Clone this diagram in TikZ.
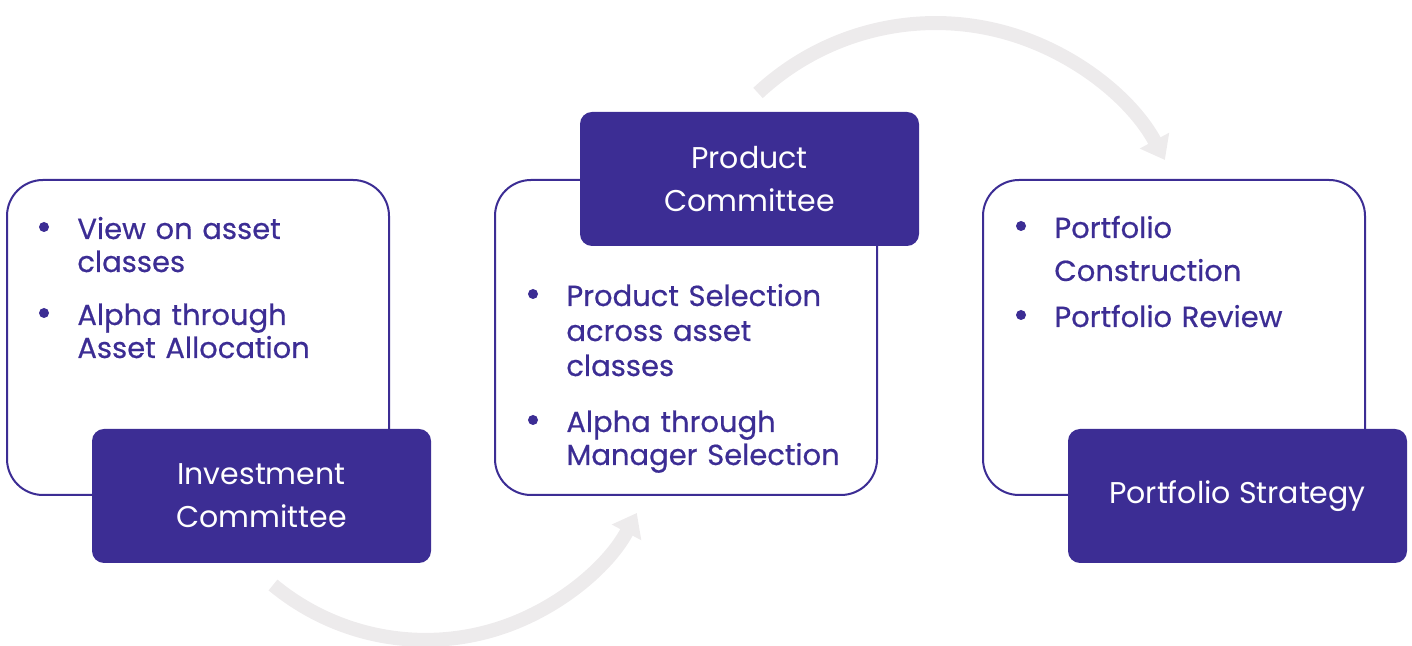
\documentclass[tikz,border=0pt]{standalone}
\usepackage{fontspec}
\setmainfont{Poppins}
\newfontfamily\itemfont{Poppins}[FakeBold=0.5]
\definecolor{ink}{HTML}{3C2D94}
\definecolor{arcgray}{HTML}{EDEBEC}
\usetikzlibrary{arrows.meta, positioning, calc}
\tikzset{
  panel/.style={
    draw=ink, line width=1pt, fill=white, rounded corners=18pt,
    minimum width=191pt, minimum height=157.5pt
  },
  tag/.style={
    fill=ink, rounded corners=6pt, minimum width=169.5pt,
    minimum height=67pt, text=white, align=center, inner sep=0pt,
    font=\fontsize{15}{21.5}\selectfont
  },
  itemtxt/.style={
    text=ink, anchor=base west, align=left, inner sep=0pt,
    text width=170pt, font=\itemfont\fontsize{14.5}{#1}\selectfont
  },
  itemtxt/.default=16.5,
  dot/.style={fill=ink},
  flow/.style={draw=arcgray, line width=7pt, -{Triangle[width=16pt,length=11pt]}},
}

\begin{document}
\begin{tikzpicture}[x=0.5pt, y=0.5pt]
  \useasboundingbox (0,0) rectangle (1412,646);

  % flow arrows
  \coordinate (flowA) at (273,61);
  \coordinate (flowB) at (758,553);
  \draw[flow] (flowA) arc[start angle=230.4, end angle=332, radius=239.3];
  \draw[flow] (flowB) arc[start angle=133, end angle=28.3, radius=260.4];

  % panels
  \node[panel] (invpanel)   at (198,308.5) {};
  \node[panel] (prodpanel)  at (686,308.5) {};
  \node[panel] (stratpanel) at (1174,308.5) {};

  % tags
  \node[tag] (invtag)   at ($(invpanel.south)+(63.5,0)$)   {Investment\\Committee};
  \node[tag] (prodtag)  at ($(prodpanel.north)+(63.5,0)$)  {Product\\Committee};
  \node[tag] (strattag) at ($(stratpanel.south)+(63.5,0)$) {Portfolio Strategy};

  % bullet items
  \node[itemtxt] (inv1) at (77,407) {View on asset\\classes};
  \node[itemtxt] (inv2) at (77,321) {Alpha through\\Asset Allocation};
  \node[itemtxt=17.5] (prod1) at (566,340) {Product Selection\\across asset\\classes};
  \node[itemtxt] (prod2) at (566,214) {Alpha through\\Manager Selection};
  \node[itemtxt] (strat1) at (1054,408) {Portfolio\\[5pt]Construction};
  \node[itemtxt] (strat2) at (1054,319) {Portfolio Review};

  \foreach \n in {inv1,inv2,prod1,prod2,strat1,strat2}
    \fill[dot] ($(\n.base west)+(-33,12)$) circle (5);
\end{tikzpicture}
\end{document}
